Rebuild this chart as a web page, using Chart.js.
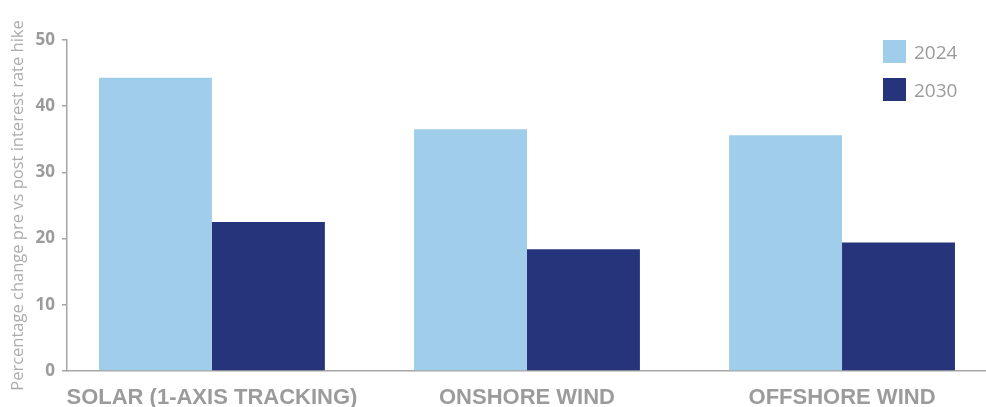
<!DOCTYPE html>
<html>
<head>
<meta charset="utf-8">
<script src="https://cdn.jsdelivr.net/npm/chart.js@4/dist/chart.umd.min.js"></script>
<style>
  html, body { margin: 0; padding: 0; background: #fff; }
  #wrap { position: relative; width: 986px; height: 407px; }
  #legend { position: absolute; left: 883px; top: 40px; font-family: "Open Sans", sans-serif; font-size: 19px; color: #9b9b9b; }
  .item { display: flex; align-items: center; height: 23px; margin-bottom: 15px; }
  .swatch { width: 23px; height: 23px; margin-right: 8px; }
</style>
</head>
<body>
<div id="wrap">
  <canvas id="chart" width="986" height="407"></canvas>
  <div id="legend"></div>
</div>
<script>
// Chart data
const categories = ['SOLAR (1-AXIS TRACKING)', 'ONSHORE WIND', 'OFFSHORE WIND'];
const seriesNames = ['2024', '2030'];
const values2024 = [44.3, 36.5, 35.6];
const values2030 = [22.5, 18.4, 19.4];
const yTicks = [0, 10, 20, 30, 40, 50];

const colors = ['#9fcdea', '#26347b'];
const gray = '#9b9b9b';

// categories sit at x = 1, 2, 3 on a linear axis
const toPoints = arr => arr.map((v, i) => ({ x: i + 1, y: v }));

const datasets = [values2024, values2030].map((vals, i) => ({
  label: seriesNames[i],
  data: toPoints(vals),
  backgroundColor: colors[i],
  borderWidth: 0,
  categoryPercentage: 0.717,
  barPercentage: 1,
}));

// Custom legend
const legendEl = document.getElementById('legend');
datasets.forEach(ds => {
  const item = document.createElement('div');
  item.className = 'item';
  item.innerHTML = `<span class="swatch" style="background:${ds.backgroundColor}"></span><span>${ds.label}</span>`;
  legendEl.appendChild(item);
});

new Chart(document.getElementById('chart'), {
  type: 'bar',
  data: { datasets },
  options: {
    responsive: false,
    animation: false,
    layout: { padding: { top: 40, right: 0, bottom: 0, left: 0 } },
    plugins: {
      legend: { display: false },
      tooltip: { enabled: false },
    },
    scales: {
      x: {
        type: 'linear',
        offset: false,
        min: 0.54,
        max: 3.457,
        afterBuildTicks: scale => {
          scale.ticks = categories.map((c, i) => ({ value: i + 1 }));
        },
        afterFit: scale => {
          scale.height = 36;
        },
        grid: { display: false },
        border: { display: true, color: '#a6a6a6', width: 1.5 },
        ticks: {
          autoSkip: false,
          maxRotation: 0,
          padding: 6,
          color: gray,
          font: { family: '"Liberation Sans Narrow", "Liberation Sans", sans-serif', size: 22, weight: 'bold' },
          callback: v => categories[v - 1],
        },
      },
      y: {
        min: 0,
        max: 50,
        afterBuildTicks: scale => {
          scale.ticks = yTicks.map(v => ({ value: v }));
        },
        afterFit: scale => {
          scale.width = 67;
        },
        grid: { drawOnChartArea: false, drawTicks: true, tickLength: 5, color: '#a6a6a6', lineWidth: 1.5 },
        border: { display: true, color: '#a6a6a6', width: 1.5 },
        ticks: {
          padding: 7,
          color: gray,
          font: { family: '"Open Sans", sans-serif', size: 17, weight: 'bold' },
        },
        title: {
          display: true,
          text: 'Percentage change pre vs post interest rate hike',
          color: '#ababab',
          padding: { top: 8, bottom: 0 },
          font: { family: '"Open Sans", sans-serif', size: 16.5 },
        },
      },
    },
  },
});
</script>
</body>
</html>
